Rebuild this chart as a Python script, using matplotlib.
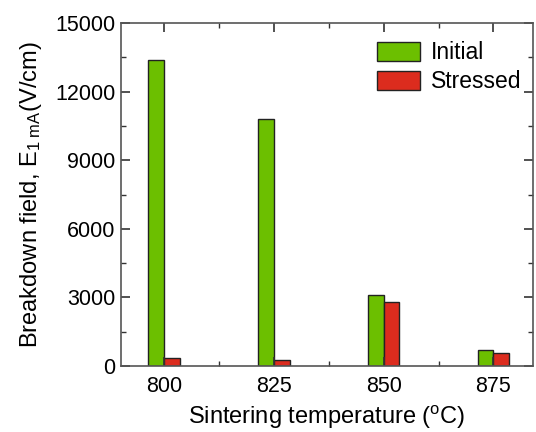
import matplotlib
matplotlib.use('Agg')
import numpy as np
import matplotlib.pyplot as plt
from matplotlib.ticker import MultipleLocator

plt.rcParams['font.family'] = ['Liberation Sans', 'DejaVu Sans']
plt.rcParams['mathtext.fontset'] = 'custom'
plt.rcParams['mathtext.rm'] = 'Liberation Sans'
plt.rcParams['mathtext.it'] = 'Liberation Sans'

# data
temps = [800, 825, 850, 875]
initial = [13400, 10800, 3100, 700]
stressed = [350, 275, 2800, 550]

w = 3.6  # bar width in degC
green = '#6cbf00'
red = '#dc2c1e'

fig = plt.figure(figsize=(5.36, 4.32), dpi=100)
ax = fig.add_axes([121/536, 1-366/432, (533-121)/536, (366-23)/432])

t = np.array(temps)
ax.bar(t - w/2, initial, w, color=green, edgecolor='#222222', linewidth=1, label='Initial')
ax.bar(t + w/2, stressed, w, color=red, edgecolor='#222222', linewidth=1, label='Stressed')

ax.set_xlim(790.2, 884)
ax.set_ylim(0, 15000)
ax.set_xticks(temps)
ax.xaxis.set_minor_locator(MultipleLocator(12.5))
ax.set_yticks(np.arange(0, 15001, 3000))
ax.yaxis.set_minor_locator(MultipleLocator(1500))
ax.tick_params(which='both', direction='in', top=True, right=True, labelsize=15.5, colors='#333333', labelcolor='black')
ax.tick_params(which='major', length=6.5, width=1.2)
ax.tick_params(which='minor', length=3.5, width=1)
ax.tick_params(axis='x', pad=7)
ax.tick_params(axis='y', pad=4)
for s in ax.spines.values():
    s.set_color('#555555')
    s.set_linewidth(1.2)

ax.set_xlabel(r'Sintering temperature ($^{\rm o}$C)', fontsize=17, labelpad=5)
ax.set_ylabel(r'Breakdown field, E$_{\rm 1\ mA}$(V/cm)', fontsize=17, labelpad=8)

ax.legend(loc='upper right', bbox_to_anchor=(1.0, 0.98), frameon=False, fontsize=16.5,
          handlelength=1.85, handleheight=0.9, handletextpad=0.5, labelspacing=0.25,
          borderaxespad=0.1)

fig.savefig('out.png', dpi=100)
